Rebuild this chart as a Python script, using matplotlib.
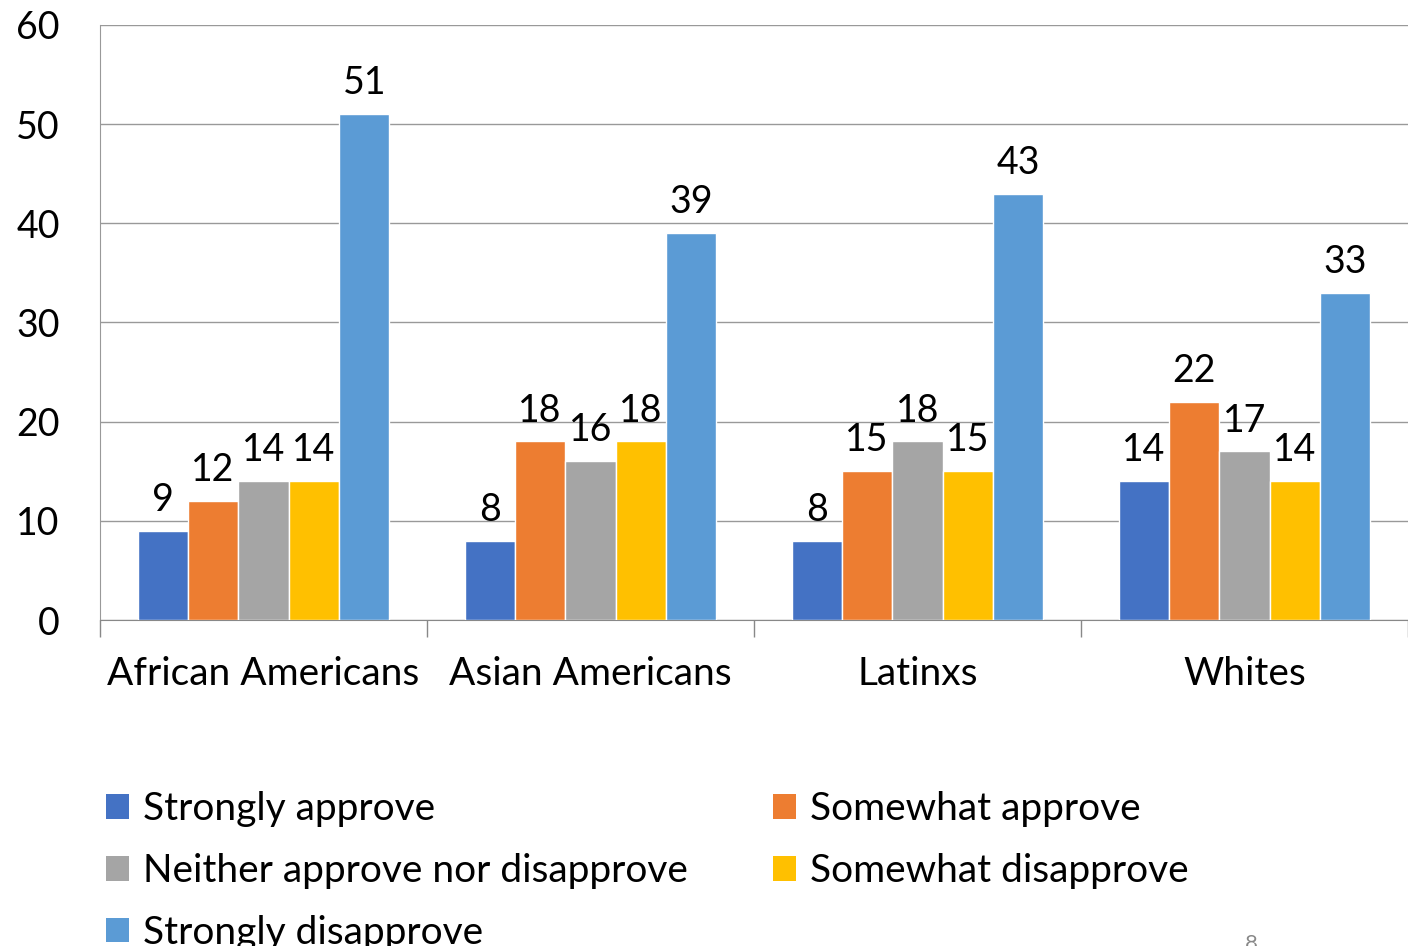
import numpy as np
import matplotlib.pyplot as plt
from matplotlib.patches import Patch

groups = ["African Americans", "Asian Americans", "Latinxs", "Whites"]
series = ["Strongly approve", "Somewhat approve", "Neither approve nor disapprove",
          "Somewhat disapprove", "Strongly disapprove"]
strongly_approve = [9, 8, 8, 14]
somewhat_approve = [12, 18, 15, 22]
neither = [14, 16, 18, 17]
somewhat_disapprove = [14, 18, 15, 14]
strongly_disapprove = [51, 39, 43, 33]
values = [strongly_approve, somewhat_approve, neither, somewhat_disapprove, strongly_disapprove]
colors = ["#4472C4", "#ED7D31", "#A5A5A5", "#FFC000", "#5B9BD5"]

plt.rcParams['font.family'] = ['Lato', 'DejaVu Sans']
fs = 27

fig = plt.figure(figsize=(14.08, 9.46), dpi=100)
ax = fig.add_axes([0.071, 0.3446, 0.929, 0.629])

x = np.arange(len(groups))
w = 0.77 / 5
for i, (vals, c) in enumerate(zip(values, colors)):
    pos = x - 0.385 + w * (i + 0.5)
    ax.bar(pos, vals, width=w, color=c, edgecolor="white", linewidth=1, zorder=3)
    for xx, v in zip(pos, vals):
        ax.text(xx, v + 1.3, str(v), ha="center", va="bottom", fontsize=fs, color="#000000")

ax.set_xlim(-0.5, len(groups) - 0.5)
ax.set_ylim(0, 60)
ax.set_yticks(range(0, 61, 10))
ax.tick_params(axis="y", length=0, labelsize=fs, pad=29)
ax.set_xticks(x)
ax.set_xticklabels(groups, fontsize=28)
ax.tick_params(axis="x", length=0, pad=26)
ax.set_xticks(np.arange(-0.5, len(groups)), minor=True)
ax.tick_params(axis="x", which="minor", length=12, color="#888888", width=1)
ax.yaxis.grid(True, color="#999999", linewidth=1, zorder=0)
for s in ["top", "right"]:
    ax.spines[s].set_visible(False)
ax.spines["left"].set_color("#999999")
ax.spines["bottom"].set_color("#888888")

handles = [Patch(facecolor=c) for c in colors]
order = [0, 2, 4, 1, 3]
fig.legend([handles[i] for i in order], [series[i] for i in order], ncol=2,
           loc="upper left", bbox_to_anchor=(0.064, 0.18), frameon=False,
           fontsize=28, handlelength=0.6, handleheight=0.6, handletextpad=0.35,
           columnspacing=2.2, labelspacing=0.66, borderaxespad=0)

fig.text(0.889, -0.008, "8", fontsize=16, color="#888888", ha="center", va="bottom")

fig.savefig("out.png", dpi=100)
